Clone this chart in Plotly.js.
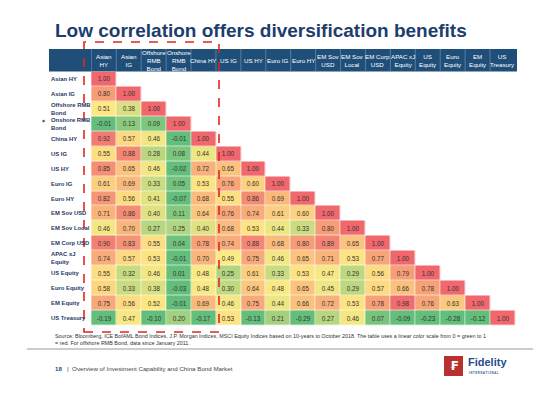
<!DOCTYPE html>
<html>
<head>
<meta charset="utf-8">
<script src="https://cdn.plot.ly/plotly-3.0.1.min.js"></script>
<style>html,body{margin:0;padding:0;background:#fff;}#chart{width:560px;height:393px;}</style>
</head>
<body>
<div id="chart"></div>
<script>
// ---- data ----
const assets = ["Asian HY","Asian IG","Offshore RMB Bond","Onshore RMB Bond","China HY","US IG","US HY","Euro IG","Euro HY","EM Sov USD","EM Sov Local","EM Corp USD","APAC xJ Equity","US Equity","Euro Equity","EM Equity","US Treasury"];
const columnHeaders = ["Asian<br>HY","Asian<br>IG","Offshore<br>RMB<br>Bond","Onshore<br>RMB<br>Bond","China HY","US IG","US HY","Euro IG","Euro HY","EM Sov<br>USD","EM Sov<br>Local","EM Corp<br>USD","APAC xJ<br>Equity","US<br>Equity","Euro<br>Equity","EM<br>Equity","US<br>Treasury"];
const rowLabels = ["Asian HY","Asian IG","Offshore RMB<br>Bond","Onshore RMB<br>Bond","China HY","US IG","US HY","Euro IG","Euro HY","EM Sov USD","EM Sov Local","EM Corp USD","APAC xJ<br>Equity","US Equity","Euro Equity","EM Equity","US Treasury"];

const rowAsianHY     = [1.00];
const rowAsianIG     = [0.80,1.00];
const rowOffshoreRMB = [0.51,0.38,1.00];
const rowOnshoreRMB  = [-0.01,0.13,0.09,1.00];
const rowChinaHY     = [0.92,0.57,0.46,-0.01,1.00];
const rowUSIG        = [0.55,0.88,0.28,0.08,0.44,1.00];
const rowUSHY        = [0.85,0.65,0.46,-0.02,0.72,0.65,1.00];
const rowEuroIG      = [0.61,0.69,0.33,0.05,0.53,0.76,0.60,1.00];
const rowEuroHY      = [0.82,0.56,0.41,-0.07,0.68,0.55,0.86,0.69,1.00];
const rowEMSovUSD    = [0.71,0.86,0.40,0.11,0.64,0.76,0.74,0.61,0.60,1.00];
const rowEMSovLocal  = [0.46,0.70,0.27,0.25,0.40,0.68,0.53,0.44,0.33,0.80,1.00];
const rowEMCorpUSD   = [0.90,0.83,0.55,0.04,0.78,0.74,0.88,0.68,0.80,0.89,0.65,1.00];
const rowAPACxJ      = [0.74,0.57,0.53,-0.01,0.70,0.49,0.75,0.46,0.65,0.71,0.53,0.77,1.00];
const rowUSEquity    = [0.55,0.32,0.46,0.01,0.48,0.25,0.61,0.33,0.53,0.47,0.29,0.56,0.79,1.00];
const rowEuroEquity  = [0.58,0.33,0.38,-0.03,0.48,0.30,0.64,0.48,0.65,0.45,0.29,0.57,0.66,0.78,1.00];
const rowEMEquity    = [0.75,0.56,0.52,-0.01,0.69,0.46,0.75,0.44,0.66,0.72,0.53,0.78,0.98,0.76,0.63,1.00];
const rowUSTreasury  = [-0.19,0.47,-0.10,0.20,-0.17,0.53,-0.13,0.21,-0.29,0.27,0.46,0.07,-0.09,-0.23,-0.28,-0.12,1.00];

const rows = [rowAsianHY,rowAsianIG,rowOffshoreRMB,rowOnshoreRMB,rowChinaHY,rowUSIG,rowUSHY,rowEuroIG,rowEuroHY,rowEMSovUSD,rowEMSovLocal,rowEMCorpUSD,rowAPACxJ,rowUSEquity,rowEuroEquity,rowEMEquity,rowUSTreasury];

// ---- build matrix ----
const n = assets.length;
const z = rows.map(r => assets.map((_, j) => j < r.length ? r[j] : null));
const txt = rows.map(r => assets.map((_, j) => j < r.length ? r[j].toFixed(2) : ""));

const W = 560, H = 393;
const px = v => v / W;
const py = v => (H - v) / H;

const gridL = 91, gridR = 517, gridT = 71.5, gridB = 325.5;
const navy = "#1f4e79";
const titleNavy = "#1c3d6e";

const trace = {
  type: "heatmap",
  x: assets, y: assets, z: z,
  text: txt,
  texttemplate: "%{text}",
  textfont: {family: "Liberation Sans, Arial, sans-serif", size: 6.3, color: "#333333"},
  colorscale: [[0, "#63BE7B"], [0.5, "#FFEB84"], [1, "#F0676D"]],
  zmin: 0, zmax: 1,
  showscale: false,
  xgap: 0.6, ygap: 0.6,
  hoverongaps: false
};

const annotations = [];
const shapes = [];

// title
annotations.push({xref:"paper", yref:"paper", x: px(53), y: py(31), xanchor:"left", yanchor:"middle",
  text:"<b>Low correlation offers diversification benefits</b>", showarrow:false,
  font:{family:"Liberation Sans, Arial, sans-serif", size:19, color:titleNavy}});

// header band
shapes.push({type:"rect", xref:"paper", yref:"paper", x0:px(49), x1:px(gridR), y0:py(gridT), y1:py(49),
  fillcolor:navy, line:{width:0}, layer:"below"});
// header separators
for (let i = 0; i < n; i++) {
  shapes.push({type:"line", xref:"x", yref:"paper", x0:i-0.5, x1:i-0.5, y0:py(gridT), y1:py(49),
    line:{color:"#6f8fb3", width:0.7}});
}
// column headers
columnHeaders.forEach((h, j) => {
  annotations.push({xref:"x", yref:"paper", x: assets[j], y: py(60), xanchor:"center", yanchor:"middle",
    text:h, showarrow:false, align:"center",
    font:{family:"Liberation Sans, Arial, sans-serif", size:6.2, color:"#ffffff"}});
});
// row labels
rowLabels.forEach((l, i) => {
  annotations.push({xref:"paper", yref:"y", x: px(49), y: assets[i], xanchor:"left", yanchor:"middle",
    text:"<b>"+l+"</b>", showarrow:false, align:"left",
    font:{family:"Liberation Sans, Arial, sans-serif", size:5.9, color:"#1f3864"}});
});
// small marker next to Onshore RMB
annotations.push({xref:"paper", yref:"y", x: px(44), y: assets[3], xanchor:"center", yanchor:"middle",
  text:"◆", showarrow:false, yshift:3, font:{family:"DejaVu Sans", size:4, color:"#555"}});

// red dashed box
shapes.push({type:"rect", xref:"paper", yref:"paper", x0:px(84), x1:px(219), y0:py(332), y1:py(42),
  line:{color:"#e0281e", width:1.6, dash:"dash"}, fillcolor:"rgba(0,0,0,0)"});

// source note
annotations.push({xref:"paper", yref:"paper", x: px(53), y: py(331), xanchor:"left", yanchor:"top",
  text:"Source: Bloomberg, ICE BofAML Bond Indices, J.P. Morgan Indices, MSCI Equity Indices based on 10-years to October 2018. The table uses a linear color scale from 0 = green to 1<br>= red. For offshore RMB Bond, data since January 2011.",
  showarrow:false, align:"left",
  font:{family:"Liberation Sans, Arial, sans-serif", size:5.4, color:"#333333"}});

// grey rule
shapes.push({type:"line", xref:"paper", yref:"paper", x0:px(27), x1:px(533), y0:py(349), y1:py(349),
  line:{color:"#9a9a9a", width:1.2}});

// footer
annotations.push({xref:"paper", yref:"paper", x: px(53), y: py(368), xanchor:"left", yanchor:"middle",
  text:"<b><span style='color:#1f4e79'>18</span></b>   |  Overview of Investment Capability and China Bond Market",
  showarrow:false, font:{family:"Liberation Sans, Arial, sans-serif", size:6.2, color:"#444"}});

// logo
shapes.push({type:"rect", xref:"paper", yref:"paper", x0:px(444), x1:px(463), y0:py(376), y1:py(356),
  fillcolor:"#b8312f", line:{width:0}});
annotations.push({xref:"paper", yref:"paper", x: px(453.5), y: py(366), xanchor:"center", yanchor:"middle",
  text:"<b>₣</b>", showarrow:false, font:{family:"DejaVu Sans", size:12, color:"#ffffff"}});
annotations.push({xref:"paper", yref:"paper", x: px(466), y: py(362), xanchor:"left", yanchor:"middle",
  text:"<b>Fidelity</b>", showarrow:false, font:{family:"Liberation Sans, Arial, sans-serif", size:11, color:"#1f4e8c"}});
annotations.push({xref:"paper", yref:"paper", x: px(467), y: py(372.5), xanchor:"left", yanchor:"middle",
  text:"<b>I N T E R N A T I O N A L</b>", showarrow:false, font:{family:"Liberation Sans, Arial, sans-serif", size:2.6, color:"#1f4e8c"}});

const layout = {
  width: W, height: H,
  margin: {l:0, r:0, t:0, b:0},
  paper_bgcolor: "#ffffff", plot_bgcolor: "#ffffff",
  xaxis: {domain:[px(gridL), px(gridR)], showticklabels:false, showgrid:false, zeroline:false, ticks:"", type:"category", fixedrange:true},
  yaxis: {domain:[py(gridB), py(gridT)], showticklabels:false, showgrid:false, zeroline:false, ticks:"", type:"category", autorange:"reversed", fixedrange:true},
  annotations: annotations,
  shapes: shapes,
  showlegend: false
};

Plotly.newPlot("chart", [trace], layout, {displayModeBar:false, staticPlot:true});
</script>
</body>
</html>
